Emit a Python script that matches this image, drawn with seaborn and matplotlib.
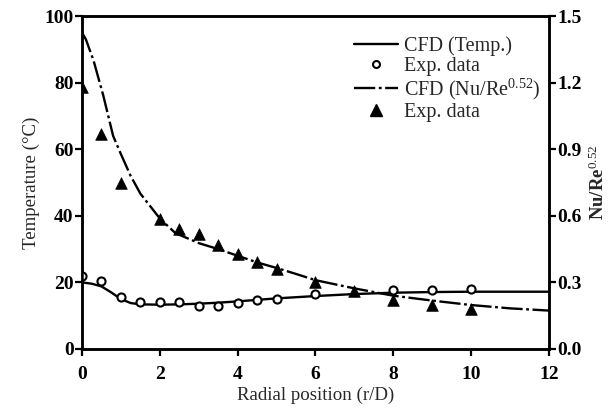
import matplotlib
matplotlib.use("Agg")
import matplotlib.pyplot as plt
import seaborn as sns
from matplotlib.lines import Line2D

# Experimental temperature data (circles)
exp_temp_r = [0, 0.5, 1.0, 1.5, 2.0, 2.5, 3.0, 3.5, 4.0, 4.5, 5.0, 6.0, 8.0, 9.0, 10.0]
exp_temp = [22.0, 20.3, 15.7, 14.0, 14.0, 14.0, 13.0, 13.0, 13.7, 14.7, 15.0, 16.4, 17.7, 17.7, 18.1]

# CFD temperature profile
cfd_temp_r = [0, 0.25, 0.5, 0.75, 1.0, 1.25, 1.5, 2.0, 2.5, 3.0, 3.5, 4.0, 5.0, 6.0, 7.0, 8.0, 9.0, 10.0, 11.0, 12.0]
cfd_temp = [20.0, 19.6, 18.8, 17.0, 15.0, 13.8, 13.4, 13.3, 13.4, 13.6, 13.9, 14.3, 15.2, 15.9, 16.5, 16.9, 17.1, 17.2, 17.2, 17.2]

# Experimental Nu/Re^0.52 data (triangles)
exp_nu_r = [0, 0.5, 1.0, 2.0, 2.5, 3.0, 3.5, 4.0, 4.5, 5.0, 6.0, 7.0, 8.0, 9.0, 10.0]
exp_nu = [1.18, 0.97, 0.75, 0.585, 0.54, 0.52, 0.47, 0.43, 0.39, 0.36, 0.30, 0.26, 0.22, 0.20, 0.18]

# CFD Nu/Re^0.52 profile
cfd_nu_r = [0, 0.1, 0.3, 0.55, 0.8, 1.0, 1.25, 1.5, 2.0, 2.4, 3.0, 3.5, 4.0, 4.5, 5.0, 5.5, 6.0, 7.0, 8.0, 9.0, 10.0, 11.0, 12.0]
cfd_nu = [1.425, 1.395, 1.298, 1.14, 0.96, 0.878, 0.78, 0.70, 0.588, 0.522, 0.477, 0.45, 0.42, 0.39, 0.365, 0.338, 0.31, 0.273, 0.24, 0.218, 0.198, 0.183, 0.173]

x_ticks = [0, 2, 4, 6, 8, 10, 12]
temp_ticks = [0, 20, 40, 60, 80, 100]
nu_ticks = [0.0, 0.3, 0.6, 0.9, 1.2, 1.5]

sns.set_theme(style="ticks")
plt.rcParams["font.family"] = ["Liberation Serif", "DejaVu Serif"]
plt.rcParams["mathtext.fontset"] = "custom"
plt.rcParams["mathtext.rm"] = "Liberation Serif"
plt.rcParams["mathtext.it"] = "Liberation Serif:italic"
plt.rcParams["mathtext.bf"] = "Liberation Serif:bold"

fig = plt.figure(figsize=(6.10, 4.11), dpi=100)
ax = fig.add_axes([0.1344, 0.1509, 0.7656, 0.8101])
ax2 = ax.twinx()

dash = (0, (9, 1.5, 1.2, 1.5))

sns.lineplot(x=cfd_temp_r, y=cfd_temp, ax=ax, color="black", linewidth=1.7,
             sort=False, legend=False)
sns.scatterplot(x=exp_temp_r, y=exp_temp, ax=ax, marker="o", s=34,
                facecolor="white", edgecolor="black", linewidth=1.5, zorder=4,
                legend=False)
sns.lineplot(x=cfd_nu_r, y=cfd_nu, ax=ax2, color="black", linewidth=1.7,
             sort=False, legend=False)
ax2.lines[-1].set_linestyle(dash)
sns.scatterplot(x=exp_nu_r, y=exp_nu, ax=ax2, marker="^", s=70,
                color="black", edgecolor="black", linewidth=0.5, zorder=4,
                legend=False)

ax.set_xlim(0, 12)
ax.set_ylim(0, 100)
ax2.set_ylim(0, 1.5)
ax.set_xticks(x_ticks)
ax.set_yticks(temp_ticks)
ax2.set_yticks(nu_ticks)
ax2.set_yticklabels([f"{v:.1f}" for v in nu_ticks])

for a in (ax, ax2):
    for s in a.spines.values():
        s.set_linewidth(1.8)
        s.set_color("black")
    a.tick_params(direction="out", length=5, width=1.6, colors="black",
                  labelsize=14)
    for lab in a.get_xticklabels() + a.get_yticklabels():
        lab.set_fontweight("bold")
ax.tick_params(axis="y", pad=1)
ax2.tick_params(axis="y", pad=1)
ax.tick_params(axis="x", pad=7)

ax.set_xlabel("Radial position (r/D)", fontsize=13.6, labelpad=3)
ax.set_ylabel("Temperature (\u00b0C)", fontsize=13.6, labelpad=3)
ax2.set_ylabel("Nu/Re$^{0.52}$", fontsize=13.5, labelpad=5, fontweight="bold")

handles = [
    Line2D([], [], color="black", linewidth=1.7),
    Line2D([], [], color="black", marker="o", linestyle="none", markersize=5,
           markerfacecolor="white", markeredgewidth=1.5),
    Line2D([], [], color="black", linewidth=1.7, linestyle=dash),
    Line2D([], [], color="black", marker="^", linestyle="none", markersize=8),
]
labels = ["CFD (Temp.)", "Exp. data", "CFD (Nu/Re$^{0.52}$)", "Exp. data"]
ax2.legend(handles, labels, loc="upper right", bbox_to_anchor=(0.982, 0.94),
           frameon=False, fontsize=14.5, handlelength=2.2, handletextpad=0.3,
           labelspacing=0.05, borderaxespad=0, borderpad=0)

fig.savefig("out.png", dpi=100)
